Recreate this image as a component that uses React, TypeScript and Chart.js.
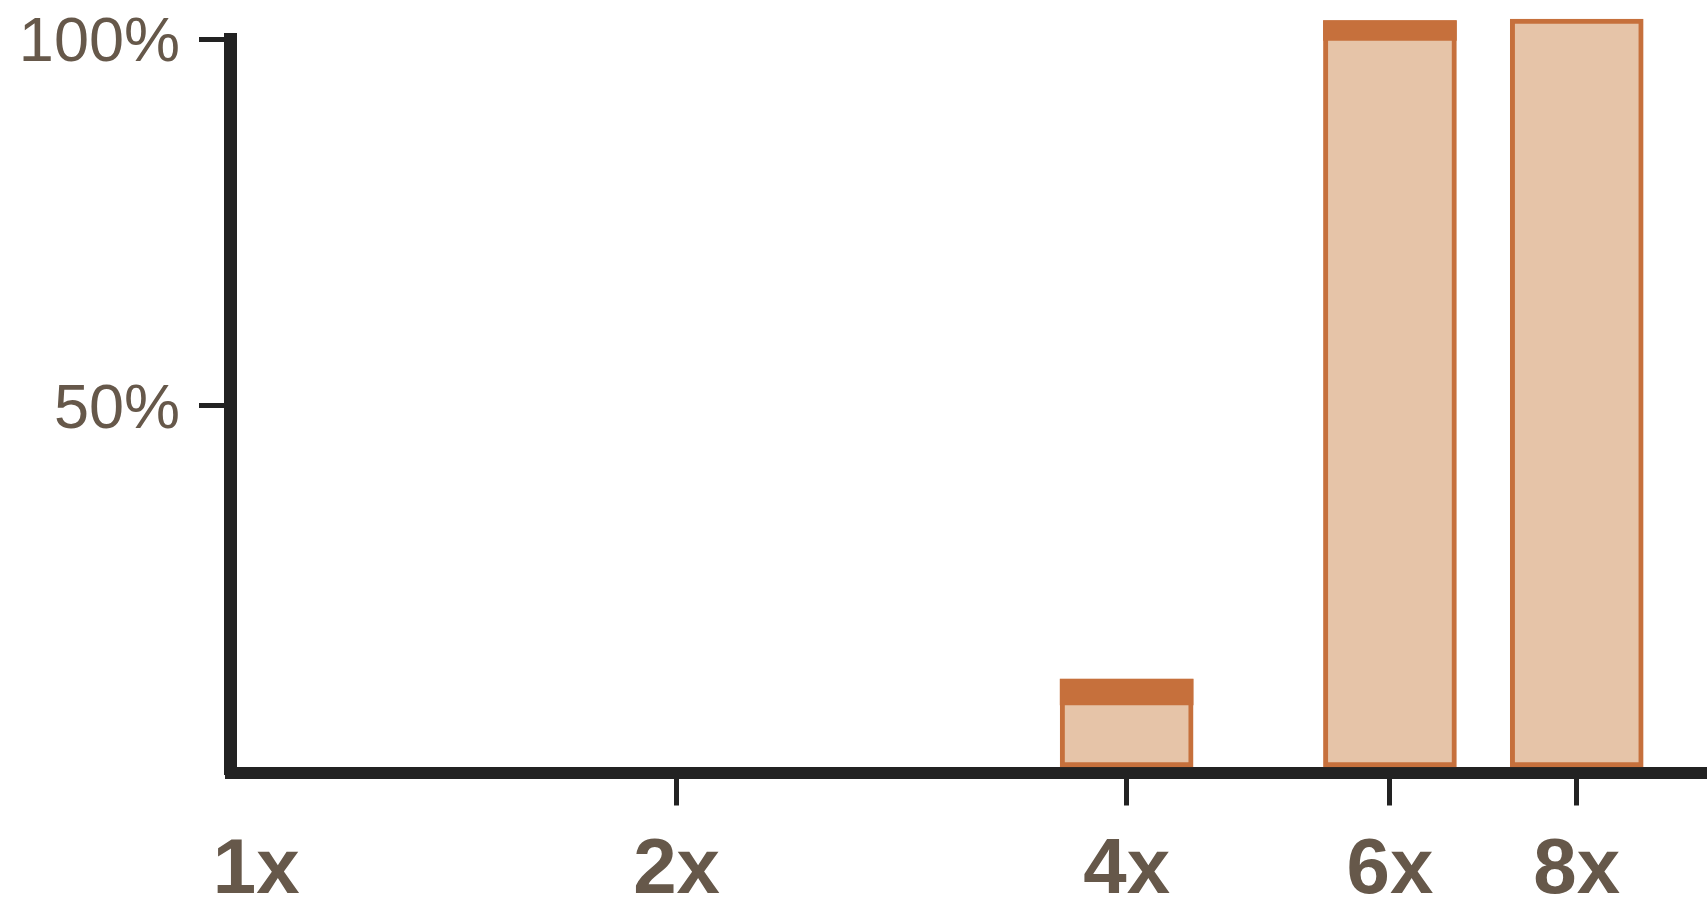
import React, { useEffect, useRef } from "react";
import { Chart, registerables } from "chart.js";

Chart.register(...registerables);

// ---- data ----
const categories = ["1x", "2x", "4x", "6x", "8x"];
const multipliers = [1, 2, 4, 6, 8];
// main (light) bars: floating from barLow to barHigh, in %
const barLow: (number | null)[] = [null, null, 0.75, 0.75, 0.75];
const barHigh: (number | null)[] = [null, null, 12.75, 102.5, 102.7];
// dark band on top of bars (range), in %
const bandLow: (number | null)[] = [null, null, 9.2, 99.8, null];
const bandHigh: (number | null)[] = [null, null, 12.75, 102.5, null];
const yTickValues = [50, 100];
const yTickLabels = ["50%", "100%"];
const firstLabelShift = 0.066; // the "1x" label sits slightly right of the axis

const LABEL_COLOR = "#66584A";
const AXIS_COLOR = "#222222";
const BAR_FILL = "#E6C4A8";
const BAR_EDGE = "#C6703C";

function buildPoints(lo: (number | null)[], hi: (number | null)[]) {
  const pts: { x: number; y: [number, number] }[] = [];
  multipliers.forEach((m, i) => {
    const a = lo[i];
    const b = hi[i];
    if (a !== null && b !== null) pts.push({ x: Math.log2(m), y: [a, b] });
  });
  return pts;
}

export default function App() {
  const ref = useRef<HTMLCanvasElement | null>(null);

  useEffect(() => {
    if (!ref.current) return;
    const chart = new Chart(ref.current, {
      type: "bar",
      data: {
        datasets: [
          {
            label: "band",
            data: buildPoints(bandLow, bandHigh) as any,
            backgroundColor: BAR_EDGE,
            borderWidth: 0,
            barThickness: 133,
            grouped: false,
            clip: false as any,
          },
          {
            label: "value",
            data: buildPoints(barLow, barHigh) as any,
            backgroundColor: BAR_FILL,
            borderColor: BAR_EDGE,
            borderWidth: 5,
            borderSkipped: false,
            barThickness: 133,
            grouped: false,
            clip: false as any,
          },
        ],
      },
      options: {
        animation: false,
        responsive: true,
        maintainAspectRatio: false,
        layout: { padding: { top: 39, left: 0, right: 0, bottom: 0 } },
        plugins: { legend: { display: false }, tooltip: { enabled: false } },
        scales: {
          x: {
            type: "linear",
            offset: false,
            min: 0.009,
            max: 3.2894,
            afterBuildTicks: (scale: any) => {
              scale.ticks = multipliers.map((m, i) => ({
                value: Math.log2(m) + (i === 0 ? firstLabelShift : 0),
              }));
            },
            afterFit: (scale: any) => {
              scale.height = 126.5;
              scale.paddingLeft = 0;
              scale.paddingRight = 0;
            },
            border: { display: true, width: 12, color: AXIS_COLOR },
            grid: {
              offset: false,
              drawOnChartArea: false,
              drawTicks: true,
              tickLength: 33,
              lineWidth: 5,
              tickWidth: 5,
              tickColor: (ctx: any) => (ctx.index === 0 ? "rgba(0,0,0,0)" : AXIS_COLOR),
            },
            ticks: {
              autoSkip: false,
              maxRotation: 0,
              padding: 26.5,
              color: LABEL_COLOR,
              font: { family: "'Liberation Sans', Arial, sans-serif", size: 78, weight: "bold", lineHeight: 1 },
              callback: (_v: any, i: number) => categories[i],
            },
          },
          y: {
            type: "linear",
            min: 0,
            max: 100,
            afterBuildTicks: (scale: any) => {
              scale.ticks = yTickValues.map((v) => ({ value: v }));
            },
            afterFit: (scale: any) => {
              scale.width = 230.5;
              scale.paddingTop = 0;
              scale.paddingBottom = 0;
            },
            border: { display: true, width: 13, color: AXIS_COLOR },
            grid: {
              drawOnChartArea: false,
              drawTicks: true,
              tickLength: 31.5,
              lineWidth: 5,
              tickWidth: 5,
              tickColor: AXIS_COLOR,
            },
            ticks: {
              padding: 19,
              color: LABEL_COLOR,
              // two-line label (empty first line) nudges the text slightly below the tick centre
              font: { family: "'Liberation Sans', Arial, sans-serif", size: 63, weight: "normal", lineHeight: 10 / 63 },
              callback: (_v: any, i: number) => ["", yTickLabels[i]],
            },
          },
        },
      } as any,
    });
    return () => chart.destroy();
  }, []);

  return (
    <div
      style={{
        position: "fixed",
        left: 0,
        top: 0,
        width: 1707,
        height: 899,
        background: "#ffffff",
      }}
    >
      <canvas ref={ref} style={{ display: "block" }} />
    </div>
  );
}
